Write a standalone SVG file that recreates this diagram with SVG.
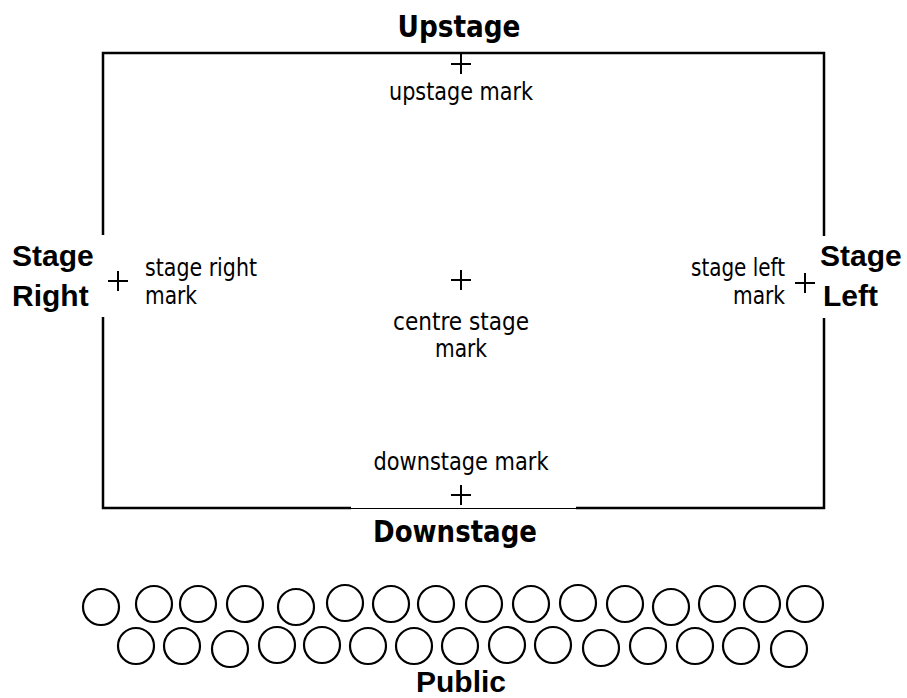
<svg xmlns="http://www.w3.org/2000/svg" width="907" height="698" viewBox="0 0 907 698">
  <style>
    .edge { fill: none; stroke: #000; stroke-width: 2.5; stroke-linecap: butt; }
    .thin { fill: none; stroke: #000; stroke-width: 1.2; }
    .cross { fill: none; stroke: #000; stroke-width: 2; }
    .seat { fill: #fff; stroke: #000; stroke-width: 2.2; }
    .side { font-family: "Liberation Sans", Arial, sans-serif; font-weight: bold; font-size: 30px; fill: #000; }
    .end { font-family: "DejaVu Sans Condensed", "DejaVu Sans", sans-serif; font-stretch: condensed; font-weight: bold; font-size: 31px; fill: #000; }
    .mark { font-family: "DejaVu Sans Condensed", "DejaVu Sans", sans-serif; font-stretch: condensed; font-size: 24px; fill: #000; }
  </style>
  <defs>
    <path id="plus" class="cross" d="M -10 0 H 10 M 0 -10 V 10"/>
  </defs>
  <rect width="907" height="698" fill="#fff"/>

  <!-- stage outline with wing openings on both sides -->
  <g id="stage">
    <path class="edge" d="M 103 235 V 53 H 824 V 236"/>
    <path class="edge" d="M 103 317 V 508 H 351"/>
    <path class="edge" d="M 824 318 V 508 H 576"/>
    <path class="thin" d="M 351 508.5 H 576"/>
  </g>

  <g id="upstage">
    <text class="end" x="459" y="37" text-anchor="middle" textLength="123" lengthAdjust="spacingAndGlyphs">Upstage</text>
  </g>
  <g id="upstage-mark">
    <use href="#plus" x="461" y="64"/>
    <text class="mark" x="461" y="100" text-anchor="middle" textLength="144" lengthAdjust="spacingAndGlyphs">upstage mark</text>
  </g>

  <g id="stage-right">
    <text class="side" x="12" y="266">Stage</text>
    <text class="side" x="12" y="306">Right</text>
  </g>
  <g id="stage-right-mark">
    <use href="#plus" x="118" y="281"/>
    <text class="mark" x="145" y="276" textLength="112" lengthAdjust="spacingAndGlyphs">stage right</text>
    <text class="mark" x="145" y="304" textLength="52" lengthAdjust="spacingAndGlyphs">mark</text>
  </g>

  <g id="centre-stage-mark">
    <use href="#plus" x="461" y="280"/>
    <text class="mark" x="461" y="330" text-anchor="middle" textLength="136" lengthAdjust="spacingAndGlyphs">centre stage</text>
    <text class="mark" x="461" y="357" text-anchor="middle" textLength="52" lengthAdjust="spacingAndGlyphs">mark</text>
  </g>

  <g id="stage-left-mark">
    <use href="#plus" x="805" y="283"/>
    <text class="mark" x="785" y="276" text-anchor="end" textLength="94" lengthAdjust="spacingAndGlyphs">stage left</text>
    <text class="mark" x="785" y="304" text-anchor="end" textLength="52" lengthAdjust="spacingAndGlyphs">mark</text>
  </g>
  <g id="stage-left">
    <text class="side" x="820" y="266">Stage</text>
    <text class="side" x="823" y="306">Left</text>
  </g>

  <g id="downstage-mark">
    <text class="mark" x="461" y="470" text-anchor="middle" textLength="175" lengthAdjust="spacingAndGlyphs">downstage mark</text>
    <use href="#plus" x="461" y="495"/>
  </g>
  <g id="downstage">
    <text class="end" x="455" y="542" text-anchor="middle" textLength="164" lengthAdjust="spacingAndGlyphs">Downstage</text>
  </g>

  <!-- audience seating, two rows -->
  <g id="audience">
    <circle class="seat" cx="101" cy="607" r="18"/>
    <circle class="seat" cx="154" cy="604" r="18"/>
    <circle class="seat" cx="198" cy="604" r="18"/>
    <circle class="seat" cx="245" cy="604" r="18"/>
    <circle class="seat" cx="296" cy="607" r="18"/>
    <circle class="seat" cx="345" cy="603" r="18"/>
    <circle class="seat" cx="391" cy="604" r="18"/>
    <circle class="seat" cx="436" cy="604" r="18"/>
    <circle class="seat" cx="484" cy="604" r="18"/>
    <circle class="seat" cx="531" cy="604" r="18"/>
    <circle class="seat" cx="578" cy="603" r="18"/>
    <circle class="seat" cx="625" cy="604" r="18"/>
    <circle class="seat" cx="671" cy="607" r="18"/>
    <circle class="seat" cx="717" cy="604" r="18"/>
    <circle class="seat" cx="762" cy="604" r="18"/>
    <circle class="seat" cx="805" cy="604" r="18"/>

    <circle class="seat" cx="136" cy="646" r="18"/>
    <circle class="seat" cx="182" cy="646" r="18"/>
    <circle class="seat" cx="230" cy="649" r="18"/>
    <circle class="seat" cx="277" cy="645" r="18"/>
    <circle class="seat" cx="322" cy="645" r="18"/>
    <circle class="seat" cx="368" cy="646" r="18"/>
    <circle class="seat" cx="414" cy="646" r="18"/>
    <circle class="seat" cx="460" cy="646" r="18"/>
    <circle class="seat" cx="507" cy="645" r="18"/>
    <circle class="seat" cx="553" cy="645" r="18"/>
    <circle class="seat" cx="601" cy="648" r="18"/>
    <circle class="seat" cx="648" cy="646" r="18"/>
    <circle class="seat" cx="695" cy="646" r="18"/>
    <circle class="seat" cx="741" cy="646" r="18"/>
    <circle class="seat" cx="789" cy="649" r="18"/>
  </g>

  <g id="public">
    <text class="side" x="461" y="692" text-anchor="middle">Public</text>
  </g>
</svg>
